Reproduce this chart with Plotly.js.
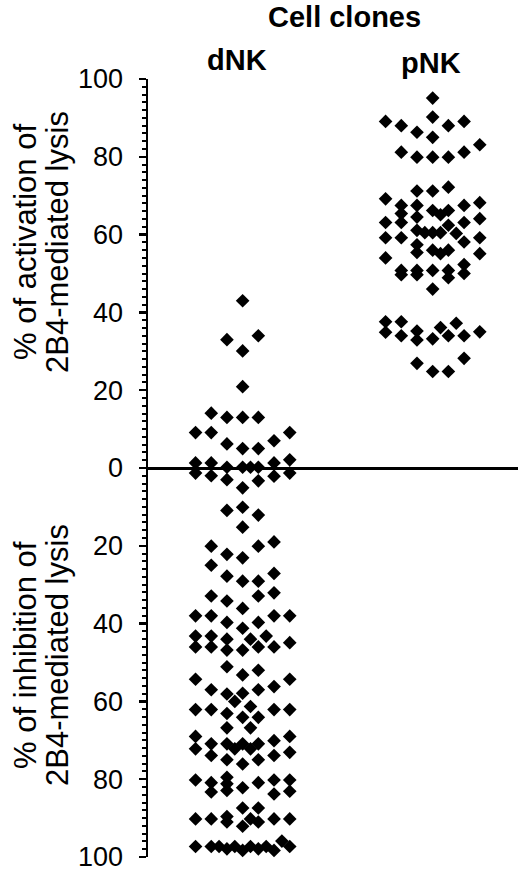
<!DOCTYPE html>
<html>
<head>
<meta charset="utf-8">
<script src="https://cdn.plot.ly/plotly-3.0.1.min.js"></script>
<style>html,body{margin:0;padding:0;background:#fff;}#chart{width:520px;height:873px;}</style>
</head>
<body>
<div id="chart"></div>
<script>
// Group labels
const groups = ["dNK", "pNK"];

// dNK clones: % activation (positive) / inhibition (negative) of 2B4-mediated lysis
const dnkValues = [
  43.0, 33.0, 34.0, 30.1, 20.9, 14.1, 13.0, 13.0, 13.0, 9.1, 9.1, 9.1, 6.2, 5.0, 5.0, 7.0, 2.1,
  1.3, 1.3, 0.2, 0.2, 0.2, 0.2, 1.3, -1.3, -2.0, -3.0, -5.1, -3.3, -2.1, -1.3,
  -10.9, -10.1, -12.1, -15.2, -20.1, -20.1, -19.0, -22.2, -23.1, -25.0, -27.8, -29.1, -29.1, -27.1,
  -32.9, -34.2, -32.9, -32.1, -36.1, -38.0, -38.0, -38.0, -38.0, -39.7, -39.7, -41.2,
  -43.2, -43.2, -46.0, -46.0, -44.0, -46.8, -44.0, -43.2, -46.0, -46.0, -44.9, -46.8,
  -51.1, -53.2, -52.0, -54.3, -54.3, -57.0, -58.1, -60.0, -57.9, -57.0, -56.2, -61.3,
  -62.1, -62.1, -63.1, -64.1, -64.1, -62.1, -62.1, -66.8, -66.8,
  -69.0, -72.2, -70.9, -73.9, -70.9, -72.2, -70.9, -72.2, -70.9, -75.0, -76.1, -75.0, -70.1, -73.9, -69.0, -73.1,
  -80.2, -80.9, -83.3, -79.5, -81.2, -82.9, -82.2, -80.9, -80.2, -83.8, -80.2, -83.1, -87.4, -87.4,
  -90.2, -90.2, -89.6, -91.0, -90.2, -92.1, -91.0, -90.2, -90.2,
  -97.3, -97.3, -97.3, -97.9, -97.3, -98.3, -97.3, -97.9, -97.3, -98.3, -95.9, -97.3
];
// swarm column of each dNK point (0 = group centre)
const dnkSlots = [
  0, -1, 1, 0, 0, -2, -1, 0, 1, -3, -2, 3, -1, 0, 1, 2, 3,
  -3, -2, -1, 0, 0.5, 1, 2, -3, -2, -1, 0, 1, 2, 3,
  -1, 0, 1, 0, -2, 1, 2, -1, 0, -2, -1, 0, 1, 2,
  -2, -1, 1, 2, 0, -3, -2, 2, 3, -1, 1, 0,
  -3, -2, -3, -2, -1, -1, 0.5, 1.5, 1, 2, 3, 0,
  -1, 0, 1, -3, 3, -2, -1, -0.5, 0, 1, 2, 0.5,
  -3, -2, -1, 0, 1, 2, 3, -1, 0.5,
  -3, -3, -2, -2, -1, -0.5, 0, 0.5, 1, -1, 0, 1, 2, 2, 3, 3,
  -3, -2, -2, -1, -1, -1, 0, 1, 2, 2, 3, 3, 0, 1,
  -3, -2, -1, -1, 0.5, 0, 1, 2, 3,
  -3, -2, -1.5, -1, -0.5, 0, 0.5, 1, 1.5, 2, 2.5, 3
];

// pNK clones
const pnkValues = [
  95.1, 89.1, 88.0, 90.2, 88.0, 89.1, 86.3, 85.0, 81.2, 79.9, 79.9, 79.9, 81.2, 83.1,
  71.2, 71.2, 72.2, 69.2, 67.5, 65.4, 63.1, 67.5, 64.5, 61.1, 66.2, 65.1, 66.2, 62.4, 67.5, 63.1, 68.2, 64.1,
  63.1, 59.2, 59.2, 60.5, 60.5, 60.5, 60.3, 58.1, 59.2, 57.4, 55.4, 56.0, 55.1, 56.0, 55.1, 54.0,
  50.8, 49.7, 50.8, 49.7, 50.8, 50.8, 48.9, 52.3, 50.0, 46.0,
  37.6, 34.9, 37.6, 34.0, 35.2, 32.9, 33.2, 36.1, 34.0, 37.2, 34.0, 35.0,
  26.9, 24.8, 24.8, 28.2
];
const pnkSlots = [
  0, -3, -2, 0, 1, 2, -1, 0, -2, -1, 0, 1, 2, 3,
  -1, 0, 1, -3, -2, -2, -2, -1, -1, -1, 0, 0.5, 1, 1, 2, 2, 3, 3,
  -3, -3, -2, -0.5, 0, 0.5, 1.5, 2, 3, -1, -1, 0, 0.5, 1, 3, -3,
  -2, -2, -1, -1, 0, 1, 1, 2, 2, 0,
  -3, -3, -2, -2, -1, -1, 0, 0.5, 1, 1.5, 2, 3,
  -1, 0, 1, 2
];

// y-axis tick labels (both halves shown as positive percentages)
const tickValues = [-100, -80, -60, -40, -20, 0, 20, 40, 60, 80, 100];
const tickLabels = ["100", "80", "60", "40", "20", "0", "20", "40", "60", "80", "100"];

const SLOT = 0.0826;
const FONT = "Liberation Sans, Arial, Helvetica, sans-serif";

function swarm(groupIndex, values, slots) {
  return {
    type: "scatter",
    mode: "markers",
    x: slots.map(s => groupIndex + s * SLOT),
    y: values,
    marker: {symbol: "diamond", size: 10.5, color: "#000", line: {width: 0}},
    hoverinfo: "y",
    showlegend: false,
    cliponaxis: false
  };
}

const data = [swarm(0, dnkValues, dnkSlots), swarm(1, pnkValues, pnkSlots)];

// plot area spans 148..518 horizontally and 79..857 vertically
const TOP = 79, BOT = 857;
const px = p => (p - 148) / 370;
const py = p => (BOT - p) / (BOT - TOP);

const layout = {
  width: 520, height: 873,
  margin: {l: 148, r: 2, t: TOP, b: 873 - BOT, pad: 0},
  paper_bgcolor: "#fff", plot_bgcolor: "#fff",
  font: {family: FONT, color: "#000"},
  xaxis: {visible: false, range: [-0.498, 1.449], fixedrange: true},
  yaxis: {
    range: [-100, 100], fixedrange: true,
    tickvals: tickValues, ticktext: tickLabels,
    tickfont: {size: 27, family: FONT, color: "#000"},
    ticks: "outside", ticklen: 7, tickwidth: 2.5, tickcolor: "#000",
    minor: {dtick: 2, ticks: "outside", ticklen: 4, tickwidth: 2, tickcolor: "#000", showgrid: false},
    showline: true, linewidth: 2.5, linecolor: "#000",
    showgrid: false,
    zeroline: true, zerolinewidth: 3, zerolinecolor: "#000",
    ticklabelstandoff: 10,
    ticklabeloverflow: "allow"
  },
  annotations: [
    {text: "<b>Cell clones</b>", xref: "x", yref: "paper", x: 0.538, y: py(17), showarrow: false, font: {size: 29}, xanchor: "center", yanchor: "middle"},
    {text: "<b>" + groups[0] + "</b>", xref: "x", yref: "paper", x: -0.03, y: py(60), showarrow: false, font: {size: 29}, xanchor: "center", yanchor: "middle"},
    {text: "<b>" + groups[1] + "</b>", xref: "x", yref: "paper", x: 0.99, y: py(63), showarrow: false, font: {size: 29}, xanchor: "center", yanchor: "middle"},
    {text: "% of activation of", xref: "paper", yref: "paper", x: px(25), y: py(242), textangle: -90, showarrow: false, font: {size: 31}, xanchor: "center", yanchor: "middle"},
    {text: "2B4-mediated lysis", xref: "paper", yref: "paper", x: px(57), y: py(242), textangle: -90, showarrow: false, font: {size: 31}, xanchor: "center", yanchor: "middle"},
    {text: "% of inhibition of", xref: "paper", yref: "paper", x: px(25), y: py(655), textangle: -90, showarrow: false, font: {size: 31}, xanchor: "center", yanchor: "middle"},
    {text: "2B4-mediated lysis", xref: "paper", yref: "paper", x: px(57), y: py(655), textangle: -90, showarrow: false, font: {size: 31}, xanchor: "center", yanchor: "middle"}
  ]
};

Plotly.newPlot("chart", data, layout, {displayModeBar: false, staticPlot: true});
</script>
</body>
</html>
